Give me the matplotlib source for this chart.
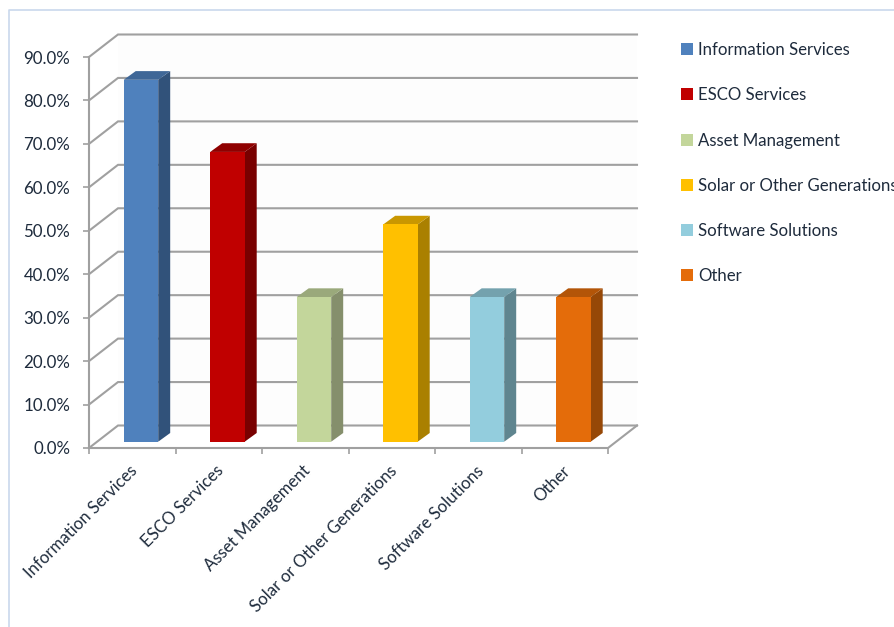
import numpy as np
import matplotlib
matplotlib.use('Agg')
import matplotlib.pyplot as plt
from matplotlib.patches import Polygon, Patch
from matplotlib.lines import Line2D
from matplotlib.transforms import ScaledTranslation

plt.rcParams['font.family'] = ['Lato', 'DejaVu Sans']

categories = ['Information Services', 'ESCO Services', 'Asset Management',
              'Solar or Other Generations', 'Software Solutions', 'Other']
values = [83.3, 66.7, 33.3, 50.0, 33.3, 33.3]
y_ticks = [0, 10, 20, 30, 40, 50, 60, 70, 80, 90]

front_colors = ['#4f81bd', '#c00000', '#c3d69b', '#ffc000', '#93cddd', '#e46c0a']
side_colors = ['#31527a', '#780000', '#858f6c', '#aa8000', '#5f858f', '#964807']
top_colors = ['#3f6797', '#8f0000', '#9aa97b', '#c99700', '#74a2ae', '#b35508']

W, H = 894, 627
GRID = '#a0a0a0'
TEXT = '#1e2b3c'

fig = plt.figure(figsize=(W / 100, H / 100), dpi=100)
# axes box is the front face of the 3d frame, in pixels
left, right, bottom, top = 89, 608, 448, 57
ax = fig.add_axes([left / W, 1 - bottom / H, (right - left) / W, (bottom - top) / H])
ax.set_xlim(0, 6)
ax.set_ylim(0, 90)
ax.patch.set_visible(False)
for s in ax.spines.values():
    s.set_visible(False)

# px -> data units
ux = 6 / (right - left)
uy = 90 / (bottom - top)
depth_x, depth_y = 29 * ux, 22.5 * uy

# back wall, very faint
ax.add_patch(Polygon([(depth_x, depth_y), (6 + depth_x, depth_y), (6 + depth_x, 90 + depth_y),
                      (depth_x, 90 + depth_y)], closed=True, fc='#fdfdfd', ec='none', zorder=0,
                     clip_on=False))

lw = 1.5
for v in y_ticks:
    ax.plot([0, depth_x, 6 + depth_x], [v, v + depth_y, v + depth_y], color=GRID, lw=lw,
            clip_on=False, zorder=1, solid_joinstyle='miter')
ax.plot([0, 0], [0, 90], color=GRID, lw=lw, clip_on=False, zorder=1)
ax.plot([0, 6, 6 + depth_x], [0, 0, depth_y], color=GRID, lw=lw, clip_on=False, zorder=1,
        solid_joinstyle='miter')

# bars, drawn as oblique boxes
bar_w = 34.5 * ux
off_x, off_y = 8.7 * ux, 6.3 * uy
bar_dx, bar_dy = 12 * ux, 8.7 * uy
for i, v in enumerate(values):
    x0 = i + 0.5 - bar_w / 2 + off_x
    x1 = x0 + bar_w
    y0 = off_y
    y1 = off_y + v
    ax.add_patch(Polygon([(x1, y0), (x1 + bar_dx, y0 + bar_dy), (x1 + bar_dx, y1 + bar_dy), (x1, y1)],
                         closed=True, fc=side_colors[i], ec='none', zorder=3, clip_on=False))
    ax.add_patch(Polygon([(x0, y1), (x1, y1), (x1 + bar_dx, y1 + bar_dy), (x0 + bar_dx, y1 + bar_dy)],
                         closed=True, fc=top_colors[i], ec='none', zorder=3, clip_on=False))
    ax.add_patch(Polygon([(x0, y0), (x1, y0), (x1, y1), (x0, y1)],
                         closed=True, fc=front_colors[i], ec='none', zorder=4, clip_on=False))

ax.set_yticks(y_ticks)
ax.set_yticklabels(['%.1f%%' % v for v in y_ticks], fontsize=12.2, color=TEXT)
ax.tick_params(axis='y', length=4, width=1.2, color=GRID, pad=9.5)

ax.set_xticks(range(7))
ax.set_xticklabels([])
ax.set_xticks(np.arange(6) + 0.5, minor=True)
ax.set_xticklabels(categories, minor=True, rotation=45, ha='right', va='top',
                   rotation_mode='anchor', fontsize=12.1, color=TEXT)
ax.tick_params(axis='x', which='major', length=4, width=1.2, color=GRID)
ax.tick_params(axis='x', which='minor', length=0, pad=10.5)
shift = ScaledTranslation(-3 / 100, 0, fig.dpi_scale_trans)
for lab in ax.get_xticklabels(minor=True):
    lab.set_transform(lab.get_transform() + shift)

handles = [Patch(fc=c, ec='none', label=n) for c, n in zip(front_colors, categories)]
fig.legend(handles=handles, loc='upper left', bbox_to_anchor=(676 / W, 1 - 37 / H), frameon=False,
           fontsize=12.1, labelcolor=TEXT, handlelength=0.72, handleheight=0.72, handletextpad=0.3,
           labelspacing=1.74, borderaxespad=0, borderpad=0.3)

# pale page frame
fig.add_artist(Line2D([8.5 / W, 8.5 / W, 1], [0, 1 - 9.5 / H, 1 - 9.5 / H], color='#c9d8ec', lw=1.2))

fig.savefig('out.png', dpi=100)
